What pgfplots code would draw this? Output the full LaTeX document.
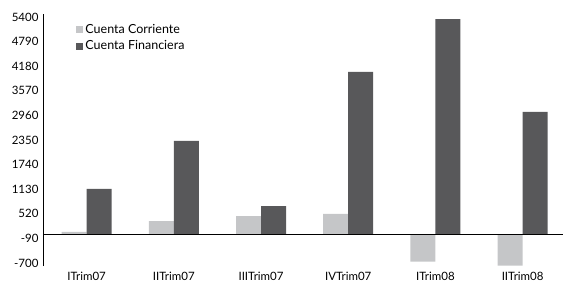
\documentclass[border=0pt]{standalone}
\usepackage{pgfplots}
\pgfplotsset{compat=1.18}
\usepackage{fontspec}
\setmainfont{Lato}
\definecolor{cc}{RGB}{197,198,200}
\definecolor{cf}{RGB}{88,88,90}
\begin{document}
\begin{tikzpicture}
\begin{axis}[
  scale only axis,
  width=520bp, height=252bp,
  xmin=-0.5, xmax=5.463,
  ymin=-774, ymax=5475,
  axis y line=left,
  axis x line*=bottom,
  x axis line style={draw=none},
  y axis line style={line width=1pt, -},
  ytick={-700,-90,520,1130,1740,2350,2960,3570,4180,4790,5400},
  yticklabel style={font=\fontsize{11.5bp}{13bp}\selectfont, xshift=-1bp},
  xtick=data,
  xticklabels={ITrim07,IITrim07,IIITrim07,IVTrim07,ITrim08,IITrim08},
  xticklabel style={font=\fontsize{11.5bp}{13bp}\selectfont, yshift=-3bp},
  major tick length=0pt,
  /pgf/number format/assume math mode=true,
  /pgf/number format/1000 sep={},
  ybar=0pt, bar width=25bp,
  legend style={draw=none, fill=none, at={(0.062,0.972)}, anchor=north west,
    font=\fontsize{12.5bp}{14bp}\selectfont, row sep=2bp, inner sep=1bp},
  legend cell align=left,
  legend image code/.code={\fill[#1] (0bp,-3.5bp) rectangle (7bp,3.5bp);},
  clip=false,
]
\addplot[fill=cc, draw=none] coordinates {(0,72) (1,342) (2,466) (3,516) (4,-667) (5,-766)};
\addplot[fill=cf, draw=none] coordinates {(0,1136) (1,2326) (2,714) (3,4040) (4,5350) (5,3047)};
\legend{Cuenta Corriente, Cuenta Financiera}
\draw[black, line width=1pt] (axis cs:-0.5,0) -- (axis cs:5.463,0);
\end{axis}
\pgfresetboundingbox
\path ([shift={(-43bp,-22bp)}]current axis.south west) rectangle ([shift={(0bp,14bp)}]current axis.north east);
\end{tikzpicture}
\end{document}
